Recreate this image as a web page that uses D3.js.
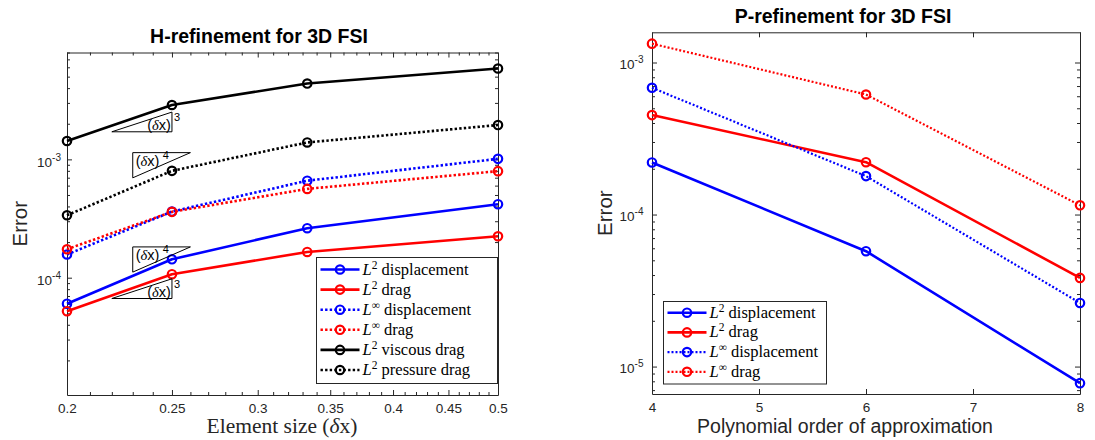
<!DOCTYPE html>
<html><head><meta charset="utf-8">
<script src="https://cdn.jsdelivr.net/npm/d3@7"></script>
<style>body{margin:0;background:#fff} svg{display:block;background:#fff}</style>
</head><body>
<svg id="c" width="1095" height="440"></svg>
<script>
// ---------- data: H-refinement ----------
const hX = [0.2, 0.25, 0.3333, 0.5];
const hL2Disp    = [6.03e-5, 1.43e-4, 2.62e-4, 4.18e-4];
const hL2Drag    = [5.21e-5, 1.07e-4, 1.65e-4, 2.24e-4];
const hLinfDisp  = [1.57e-4, 3.62e-4, 6.60e-4, 1.01e-3];
const hLinfDrag  = [1.74e-4, 3.60e-4, 5.63e-4, 7.95e-4];
const hViscous   = [1.43e-3, 2.88e-3, 4.37e-3, 5.86e-3];
const hPressure  = [3.37e-4, 8.00e-4, 1.39e-3, 1.95e-3];
const hXTicks = [0.2, 0.25, 0.3, 0.35, 0.4, 0.45, 0.5];
const hXTickLabels = ["0.2", "0.25", "0.3", "0.35", "0.4", "0.45", "0.5"];
const hYTicks = [1e-4, 1e-3];
const hYTickExp = ["-4", "-3"];
// slope triangles (x0, x1, anchor y, order, corner)
const triX0 = [0.22, 0.23, 0.23, 0.22];
const triX1 = [0.25, 0.26, 0.26, 0.25];
const triY  = [1.71e-3, 1.14e-3, 1.82e-4, 6.67e-5];
const triOrder = ["3", "4", "4", "3"];
const triCorner = ["br", "tl", "tl", "br"];

// ---------- data: P-refinement ----------
const pX = [4, 6, 8];
const pL2Disp   = [2.20e-4, 5.74e-5, 7.78e-6];
const pL2Drag   = [4.51e-4, 2.21e-4, 3.83e-5];
const pLinfDisp = [6.82e-4, 1.79e-4, 2.62e-5];
const pLinfDrag = [1.33e-3, 6.16e-4, 1.15e-4];
const pXTicks = [4, 5, 6, 7, 8];
const pYTicks = [1e-5, 1e-4, 1e-3];
const pYTickExp = ["-5", "-4", "-3"];

// legend texts
const legNorm = ["2", "2", "∞", "∞", "2", "2"];
const legText = ["displacement", "drag", "displacement", "drag", "viscous drag", "pressure drag"];

const AX = "#262626";
const SANS = "'Liberation Sans', Arial, Helvetica, sans-serif";
const SERIF = "'Liberation Serif', 'Times New Roman', serif";
const svg = d3.select("#c");

function minorLog(domain) {
  const lo = Math.min(...domain), hi = Math.max(...domain);
  const out = [];
  for (let d = Math.floor(Math.log10(lo)); d <= Math.ceil(Math.log10(hi)); d++) {
    for (let k = 2; k <= 9; k++) { const v = k * Math.pow(10, d); if (v >= lo && v <= hi) out.push(v); }
  }
  return out;
}

function styleAxis(sel) {
  sel.attr("font-family", SANS).attr("font-size", 13.5);
  sel.selectAll(".domain").attr("stroke", AX).attr("stroke-width", 1);
  sel.selectAll(".tick line").attr("stroke", AX).attr("stroke-width", 1);
  sel.selectAll(".tick text").attr("fill", AX);
}

function drawPanel(o) {
  const g = svg.append("g");
  const x = o.x, y = o.y;
  const [L, R] = x.range(); const [B, T] = y.range();
  const clean = s => s.select(".domain").remove();

  // minor ticks
  if (o.xMinor) {
    [[d3.axisBottom, B, -3], [d3.axisTop, T, -3]].forEach(([f, pos, s]) => {
      g.append("g").attr("transform", `translate(0,${pos})`)
        .call(f(x).tickValues(o.xMinor).tickSizeInner(s).tickSizeOuter(0).tickFormat(() => ""))
        .call(clean).call(styleAxis);
    });
  }
  const yMinor = minorLog(y.domain());
  [[d3.axisLeft, L], [d3.axisRight, R]].forEach(([f, pos]) => {
    g.append("g").attr("transform", `translate(${pos},0)`)
      .call(f(y).tickValues(yMinor).tickSizeInner(-3).tickSizeOuter(0).tickFormat(() => ""))
      .call(clean).call(styleAxis);
  });

  // major axes
  g.append("g").attr("transform", `translate(0,${B})`)
    .call(d3.axisBottom(x).tickValues(o.xTicks).tickSizeInner(-5).tickSizeOuter(0).tickPadding(8)
      .tickFormat((d, i) => o.xLabels[i])).call(styleAxis);
  g.append("g").attr("transform", `translate(0,${T})`)
    .call(d3.axisTop(x).tickValues(o.xTicks).tickSizeInner(-5).tickSizeOuter(0).tickFormat(() => ""))
    .call(styleAxis);
  const gl = g.append("g").attr("transform", `translate(${L},0)`)
    .call(d3.axisLeft(y).tickValues(o.yTicks).tickSizeInner(-5).tickSizeOuter(0).tickPadding(o.yPad)
      .tickFormat(() => "")).call(styleAxis);
  gl.selectAll(".tick text").attr("dy", o.yDy).each(function (d, i) {
    const t = d3.select(this);
    t.append("tspan").text("10");
    t.append("tspan").attr("dy", -6).attr("font-size", 10).text(o.yExp[i]);
  });
  g.append("g").attr("transform", `translate(${R},0)`)
    .call(d3.axisRight(y).tickValues(o.yTicks).tickSizeInner(-5).tickSizeOuter(0).tickFormat(() => ""))
    .call(styleAxis);

  // series
  const line = d3.line().x(d => x(d[0])).y(d => y(d[1]));
  o.series.forEach(s => {
    const pts = o.xs.map((v, i) => [v, s.v[i]]);
    g.append("path").attr("d", line(pts)).attr("fill", "none").attr("stroke", s.c)
      .attr("stroke-width", s.dot ? o.dotW : 2.6).attr("stroke-dasharray", s.dot ? o.dash : null)
      .attr("stroke-linejoin", "round");
    g.selectAll(null).data(pts).enter().append("circle")
      .attr("cx", d => x(d[0])).attr("cy", d => y(d[1])).attr("r", 4.2)
      .attr("fill", "none").attr("stroke", s.c).attr("stroke-width", 2.2);
  });

  // title & labels
  svg.append("text").attr("x", o.titleX).attr("y", o.titleY).attr("text-anchor", "middle")
    .attr("font-family", SANS).attr("font-weight", "bold").attr("font-size", 19.5).attr("fill", "#000")
    .text(o.title);
  svg.append("text").attr("transform", `translate(${o.yLabX},${(B + T) / 2}) rotate(-90)`)
    .attr("text-anchor", "middle").attr("font-family", SANS).attr("font-size", 20.5).attr("fill", AX)
    .text("Error");

  // legend
  const lg = g.append("g");
  lg.append("rect").attr("x", o.leg.x).attr("y", o.leg.y).attr("width", o.leg.w).attr("height", o.leg.h)
    .attr("fill", "#fff").attr("stroke", AX).attr("stroke-width", 1);
  o.series.forEach((s, i) => {
    const yy = o.leg.row0 + i * o.leg.step;
    lg.append("line").attr("x1", o.leg.x + 4).attr("x2", o.leg.x + 43).attr("y1", yy).attr("y2", yy)
      .attr("stroke", s.c).attr("stroke-width", s.dot ? o.dotW : 2.6).attr("stroke-dasharray", s.dot ? o.dash : null);
    lg.append("circle").attr("cx", o.leg.x + 23.5).attr("cy", yy).attr("r", 4.2).attr("fill", "none")
      .attr("stroke", s.c).attr("stroke-width", 2.2);
    const t = lg.append("text").attr("x", o.leg.x + 46).attr("y", yy + 5).attr("font-family", SERIF)
      .attr("font-size", 16.5).attr("fill", "#000");
    t.append("tspan").attr("font-style", "italic").text("L");
    t.append("tspan").attr("dy", -6).attr("font-size", 11.5).text(legNorm[i]);
    t.append("tspan").attr("dy", 6).text(" " + legText[i]);
  });
  return g;
}

// ---------- left panel ----------
const xH = d3.scaleLog().domain([0.2, 0.5]).range([67, 498]);
const yH = d3.scaleLog().domain([1.02e-5, 8e-3]).range([395, 52.5]);
const hMinor = d3.range(21, 50).map(v => v / 100).filter(v => v % 0.05 > 1e-9 && 0.05 - (v % 0.05) > 1e-9);
const gH = drawPanel({
  x: xH, y: yH, xs: hX, xTicks: hXTicks, xLabels: hXTickLabels, xMinor: hMinor,
  yTicks: hYTicks, yExp: hYTickExp, yPad: 6, yDy: "0.5em",
  dotW: 2.6, dash: "2.4,2.2",
  series: [
    { v: hL2Disp, c: "#0000ff" }, { v: hL2Drag, c: "#ff0000" },
    { v: hLinfDisp, c: "#0000ff", dot: 1 }, { v: hLinfDrag, c: "#ff0000", dot: 1 },
    { v: hViscous, c: "#000000" }, { v: hPressure, c: "#000000", dot: 1 }
  ],
  title: "H-refinement for 3D FSI", titleX: 259, titleY: 43, yLabX: 27,
  leg: { x: 316.5, y: 257.5, w: 181, h: 126, row0: 269.5, step: 20.1 }
});
// slope triangles
triX0.forEach((x0v, i) => {
  const xa = xH(x0v), xb = xH(triX1[i]);
  const ratio = Math.pow(triX1[i] / x0v, +triOrder[i]);
  let pts, tx, ty, sx, sy, anchor;
  if (triCorner[i] === "br") {
    const yb = yH(triY[i]), yt = yH(triY[i] * ratio);
    pts = [[xa, yb], [xb, yb], [xb, yt]];
    tx = xb - 1; ty = yb - 2; anchor = "end"; sx = xb + 2; sy = yb - 11;
  } else {
    const yt = yH(triY[i]), yb = yH(triY[i] / ratio);
    pts = [[xa, yt], [xb, yt], [xa, yb]];
    tx = xa + 3; ty = yt + 13; anchor = "start"; sx = xa + 30; sy = yt + 6;
  }
  gH.append("path").attr("d", d3.line()(pts) + "Z").attr("fill", "none").attr("stroke", "#000").attr("stroke-width", 1);
  const t = gH.append("text").attr("x", tx).attr("y", ty).attr("text-anchor", anchor)
    .attr("font-family", SANS).attr("font-size", 14.5).attr("fill", "#000");
  t.append("tspan").text("(");
  t.append("tspan").attr("font-style", "italic").attr("font-family", SERIF).text("δ");
  t.append("tspan").text("x)");
  gH.append("text").attr("x", sx).attr("y", sy).attr("font-family", SANS).attr("font-size", 11)
    .attr("fill", "#000").text(triOrder[i]);
});
{
  const t = svg.append("text").attr("x", 282).attr("y", 433).attr("text-anchor", "middle")
    .attr("font-family", SERIF).attr("font-size", 21.5).attr("fill", AX);
  t.append("tspan").text("Element size (");
  t.append("tspan").attr("font-style", "italic").text("δ");
  t.append("tspan").text("x)");
}

// ---------- right panel ----------
const xP = d3.scaleLinear().domain([4, 8]).range([652, 1080]);
const yP = d3.scaleLog().domain([6.6e-6, 1.58e-3]).range([394, 32.3]);
drawPanel({
  x: xP, y: yP, xs: pX, xTicks: pXTicks, xLabels: pXTicks.map(String), xMinor: null,
  yTicks: pYTicks, yExp: pYTickExp, yPad: 8.5, yDy: "0.45em",
  dotW: 2.2, dash: "2,2",
  series: [
    { v: pL2Disp, c: "#0000ff" }, { v: pL2Drag, c: "#ff0000" },
    { v: pLinfDisp, c: "#0000ff", dot: 1 }, { v: pLinfDrag, c: "#ff0000", dot: 1 }
  ],
  title: "P-refinement for 3D FSI", titleX: 843, titleY: 23, yLabX: 612,
  leg: { x: 663.5, y: 301.5, w: 163, h: 82.5, row0: 312.7, step: 19.7 }
});
svg.append("text").attr("x", 845).attr("y", 433).attr("text-anchor", "middle")
  .attr("font-family", SANS).attr("font-size", 19.5).attr("fill", AX)
  .text("Polynomial order of approximation");
</script></body></html>
